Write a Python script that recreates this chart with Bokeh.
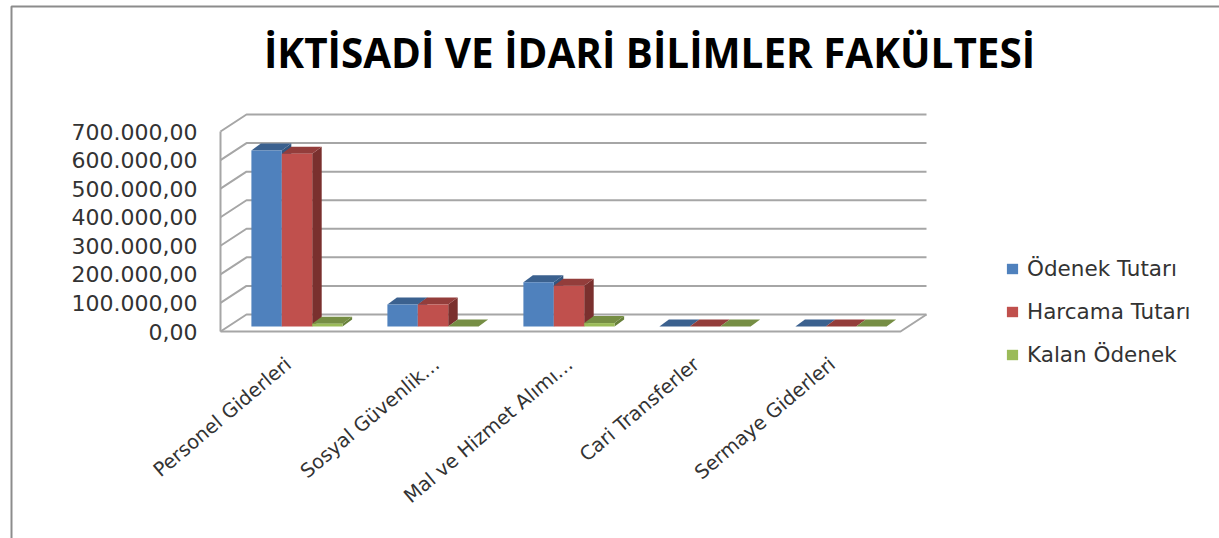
from bokeh.plotting import figure
from bokeh.models import Range1d, FixedTicker, Legend, LegendItem, Label
from bokeh.embed import file_html
from bokeh.resources import INLINE

TITLE = "İKTİSADİ VE İDARİ BİLİMLER FAKÜLTESİ"
categories = ["Personel Giderleri", "Sosyal Güvenlik…", "Mal ve Hizmet Alımı…", "Cari Transferler", "Sermaye Giderleri"]
odenek = [616000, 77000, 155000, 0, 0]
harcama = [605000, 77000, 143000, 0, 0]
kalan = [10000, 0, 12000, 0, 0]
y_ticks = [0, 100000, 200000, 300000, 400000, 500000, 600000, 700000]
y_labels = ["0,00", "100.000,00", "200.000,00", "300.000,00", "400.000,00", "500.000,00", "600.000,00", "700.000,00"]

series = [
    ("Ödenek Tutarı", odenek, "#4f81bd", "#3b618f", "#34557e"),
    ("Harcama Tutarı", harcama, "#c0504d", "#933d3b", "#7a302e"),
    ("Kalan Ödenek", kalan, "#9bbb59", "#768e44", "#67803a"),
]

# the frame fills the page; data origin sits at this pixel
W, H = 1219, 538
ORIGIN_X, ORIGIN_Y = 220, 331
PX_X = 136.0           # pixels per category
PX_Y = 200 / 700000    # pixels per unit value
ux = 1 / PX_X
uy = 1 / PX_Y
def dx(px): return (px - ORIGIN_X) * ux
def dy(py): return (ORIGIN_Y - py) * uy

p = figure(width=W, height=H, output_backend="svg", toolbar_location=None,
           x_range=Range1d(dx(0), dx(W)), y_range=Range1d(dy(H), dy(0)),
           frame_width=W, frame_height=H, min_border=0, margin=0,
           background_fill_color="white", border_fill_color="white", outline_line_color=None)
p.grid.visible = False

# chart-area border, top and left sides
p.line([dx(11), dx(11), dx(W)], [dy(H), dy(6), dy(6)], line_color="#8c8c8c", line_width=2)

# title
p.add_layout(Label(x=dx(649), y=dy(52), text=TITLE, text_font="Open Sans", text_font_style="bold",
                   text_font_size="40.4px", text_color="#000000", text_align="center", text_baseline="middle"))

# axes
p.yaxis.fixed_location = 0
p.yaxis.ticker = FixedTicker(ticks=y_ticks)
p.yaxis.major_label_overrides = dict(zip(y_ticks, y_labels))
p.yaxis.major_label_text_font = "DejaVu Sans"
p.yaxis.major_label_text_font_size = "22px"
p.yaxis.major_label_text_color = "#333333"
p.yaxis.major_label_standoff = 23
p.yaxis.major_tick_out = 0
p.yaxis.major_tick_in = 0
p.yaxis.axis_line_color = None
p.yaxis.major_tick_line_color = None
p.yaxis.minor_tick_line_color = None

# truncated labels reach a little further along their slope
label_nudge = [0, 0.09, 0.07, 0, 0]
tick_pos = [i + 0.5 + n for i, n in enumerate(label_nudge)]
p.xaxis.fixed_location = 0
p.xaxis.ticker = FixedTicker(ticks=tick_pos)
p.xaxis.major_label_overrides = dict(zip(tick_pos, categories))
p.xaxis.major_label_orientation = 0.7
p.xaxis.major_label_text_font = "DejaVu Sans"
p.xaxis.major_label_text_font_size = "19.5px"
p.xaxis.major_label_text_color = "#333333"
p.xaxis.major_label_standoff = 30
p.xaxis.major_tick_out = 0
p.xaxis.major_tick_in = 0
p.xaxis.axis_line_color = None
p.xaxis.major_tick_line_color = None
p.xaxis.minor_tick_line_color = None

# 3D walls
WALL_DX, WALL_DY = 26 * ux, 17 * uy
FLOOR_END = len(categories)
GRID = "#a6a6a6"
for t in y_ticks:
    p.line([0, WALL_DX, FLOOR_END + WALL_DX], [t, t + WALL_DY, t + WALL_DY], line_color=GRID, line_width=2)
p.line([0, 0], [y_ticks[0], y_ticks[-1]], line_color=GRID, line_width=2)
p.line([0, FLOOR_END, FLOOR_END + WALL_DX], [0, 0, WALL_DY], line_color=GRID, line_width=2)

# 3D bars
BAR_W = 30.4 * ux
SHIFT = 8.5 * ux
BASE = 5 * uy
BAR_DX, BAR_DY = 9.5 * ux, 7 * uy
items = []
for s, (name, vals, front, top, side) in enumerate(series):
    lefts = [i + 0.5 + SHIFT + (s - 1.5) * BAR_W for i in range(len(vals))]
    rights = [l + BAR_W for l in lefts]
    tops = [BASE + v for v in vals]
    xs_side = [[r, r + BAR_DX, r + BAR_DX, r] for r in rights]
    ys_side = [[BASE, BASE + BAR_DY, t + BAR_DY, t] for t in tops]
    xs_top = [[l, l + BAR_DX, r + BAR_DX, r] for l, r in zip(lefts, rights)]
    ys_top = [[t, t + BAR_DY, t + BAR_DY, t] for t in tops]
    p.patches(xs_side, ys_side, fill_color=side, line_color=None)
    p.patches(xs_top, ys_top, fill_color=top, line_color=None)
    r = p.quad(left=lefts, right=rights, bottom=[BASE] * len(vals), top=tops, fill_color=front, line_color=None)
    items.append(LegendItem(label=name, renderers=[r]))

legend = Legend(items=items, location=(1005, H - 367), orientation="vertical",
                border_line_color=None, background_fill_alpha=0,
                label_text_font="DejaVu Sans", label_text_font_size="21.5px", label_text_color="#333333",
                glyph_width=14, glyph_height=13, label_height=20, label_standoff=8,
                spacing=18, padding=0, margin=0)
p.add_layout(legend)

open("out.html", "w").write(file_html(p, INLINE))
